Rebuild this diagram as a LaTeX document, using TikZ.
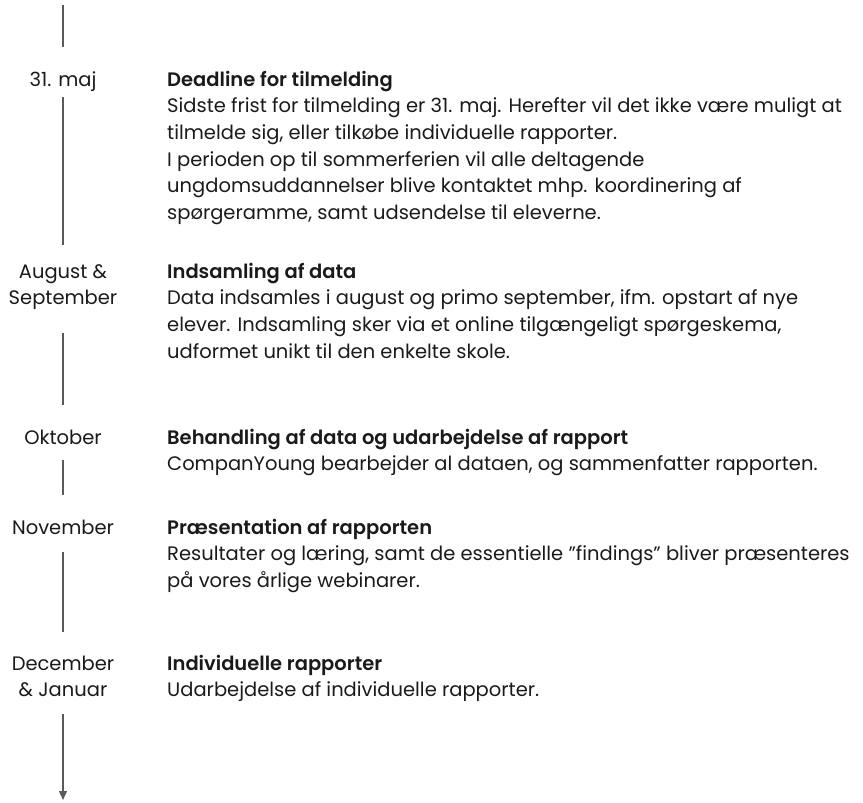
\documentclass[tikz,border=0pt]{standalone}
\usepackage{fontspec}
\IfFontExistsTF{Poppins SemiBold}
  {\setmainfont{Poppins}[BoldFont={Poppins SemiBold}]}
  {\setmainfont{Poppins}}
\usetikzlibrary{arrows.meta,positioning}
\definecolor{tekst}{HTML}{1A1A1A}
\definecolor{linje}{HTML}{5A5A5A}
\tikzset{
    %Define standard arrow tip
    >={Triangle[length=9pt,width=8pt]},
    %Define style for the dates
    dato/.style={
           anchor=north,
           inner sep=0pt,
           align=center,
           text=tekst,
           font=\fontsize{19.5}{26.7}\selectfont},
    % Define style for the text blocks
    punkt/.style={
           anchor=north west,
           inner sep=0pt,
           align=left,
           text=tekst,
           font=\fontsize{19.5}{26.7}\selectfont},
    % Define line style
    tid/.style={
           draw=linje,
           line width=1.3pt}
}

\begin{document}
\begin{tikzpicture}[x=1pt,y=-1pt]
  \useasboundingbox (0,0) rectangle (863,803);
  % dates
  \coordinate (start) at (63,5);
  \node[dato] (d1) at (63,67.3) {\strut 31. maj};
  \node[dato] (d2) at (63,259.3) {\strut August \&\\September};
  \node[dato] (d3) at (63,425.3) {\strut Oktober};
  \node[dato] (d4) at (63,515.3) {\strut November};
  \node[dato] (d5) at (63,651.3) {\strut December\\\& Januar};
  \coordinate (slut) at (63,800);
  % texts
  \node[punkt] (p1) at (167,67.3) {\strut\textbf{Deadline for tilmelding}\\
    Sidste frist for tilmelding er 31. maj. Herefter vil det ikke være muligt at\\
    tilmelde sig, eller tilkøbe individuelle rapporter.\\
    I perioden op til sommerferien vil alle deltagende\\
    ungdomsuddannelser blive kontaktet mhp. koordinering af\\
    spørgeramme, samt udsendelse til eleverne.};
  \node[punkt] (p2) at (167,259.3) {\strut\textbf{Indsamling af data}\\
    Data indsamles i august og primo september, ifm. opstart af nye\\
    elever. Indsamling sker via et online tilgængeligt spørgeskema,\\
    udformet unikt til den enkelte skole.};
  \node[punkt] (p3) at (167,425.3) {\strut\textbf{Behandling af data og udarbejdelse af rapport}\\
    CompanYoung bearbejder al dataen, og sammenfatter rapporten.};
  \node[punkt] (p4) at (167,515.3) {\strut\textbf{Præsentation af rapporten}\\
    Resultater og læring, samt de essentielle ”findings” bliver præsenteres\\
    på vores årlige webinarer.};
  \node[punkt] (p5) at (167,651.3) {\strut\textbf{Individuelle rapporter}\\
    Udarbejdelse af individuelle rapporter.};
  % timeline
  \draw[tid,shorten >=20.3pt] (start) -- (d1);
  \draw[tid,shorten <=3pt,shorten >=14.3pt] (d1) -- (d2);
  \draw[tid,shorten <=23pt,shorten >=20.3pt] (d2) -- (d3);
  \draw[tid,shorten <=8pt,shorten >=20.3pt] (d3) -- (d4);
  \draw[tid,shorten <=10pt,shorten >=19.3pt] (d4) -- (d5);
  \draw[tid,->,shorten <=17pt] (d5) -- (slut);
\end{tikzpicture}
\end{document}
